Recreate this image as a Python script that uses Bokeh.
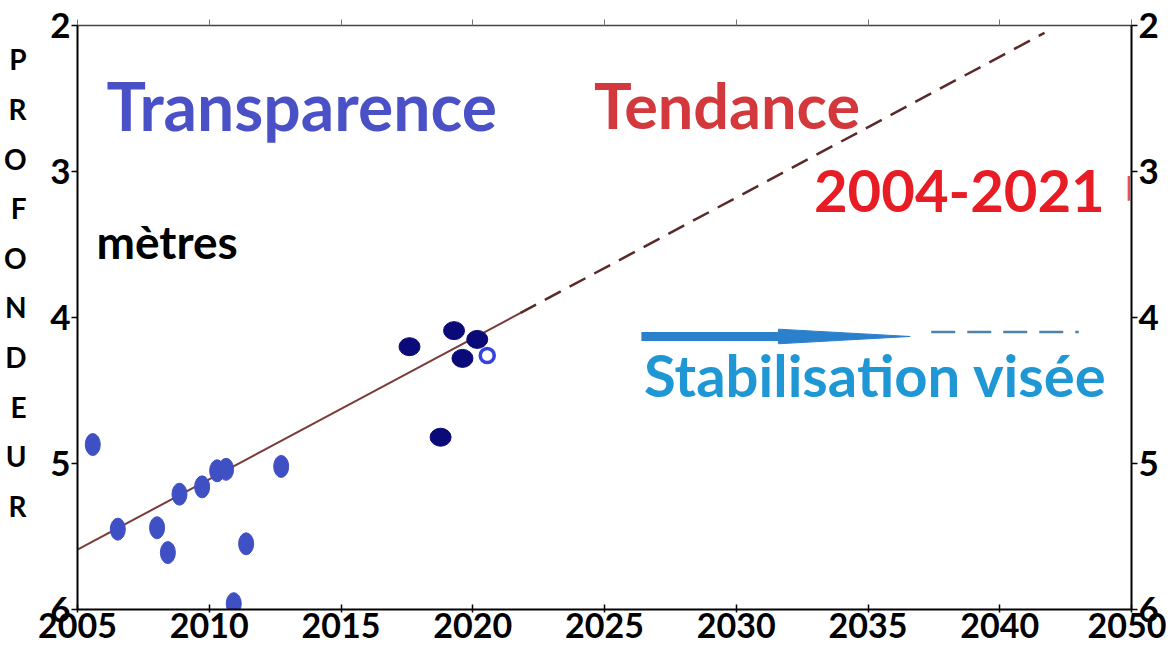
from bokeh.plotting import figure
from bokeh.models import Range1d, LinearAxis, FixedTicker, Label
from bokeh.embed import file_html
from bokeh.resources import INLINE

# ---- data ----
blue_years = [2005.58, 2006.53, 2008.02, 2008.43, 2008.87, 2009.73, 2010.30, 2010.64, 2011.40, 2010.93, 2012.73]
blue_depth = [4.87, 5.45, 5.44, 5.61, 5.21, 5.16, 5.05, 5.04, 5.55, 5.96, 5.02]

navy_years = [2017.60, 2019.29, 2020.17, 2019.61, 2018.78]
navy_depth = [4.20, 4.09, 4.15, 4.28, 4.82]

open_years = [2020.55]
open_depth = [4.26]

trend_solid_years = [2005.0, 2021.8]
trend_solid_depth = [5.59, 3.97]
trend_dash_years = [2021.8, 2041.7]
trend_dash_depth = [3.97, 2.05]

arrow_years = [2026.4, 2031.6]
arrow_head_years = [2031.6, 2036.6]
arrow_depth = 4.13
target_years = [2037.4, 2043.0]
target_depth = [4.10, 4.10]

x_ticks = [2005, 2010, 2015, 2020, 2025, 2030, 2035, 2040, 2045]
x_tick_labels = ["2005", "2010", "2015", "2020", "2025", "2030", "2035", "2040", "2050"]
y_ticks = [2, 3, 4, 5, 6]
side_letters = list("PROFONDEUR")

FONT = "Lato"

p = figure(frame_width=1054, frame_height=584, output_backend="svg", toolbar_location=None,
           x_range=Range1d(2005, 2045), y_range=Range1d(6, 2),
           min_border_left=76, min_border_right=35, min_border_top=25, min_border_bottom=40,
           x_axis_location="below", y_axis_location="left")
p.outline_line_color = None
p.grid.visible = False
p.background_fill_color = "white"
p.border_fill_color = "white"

def style_axis(ax, tick_in=0, tick_out=6, size="33px"):
    ax.axis_line_color = "black"
    ax.axis_line_width = 2
    ax.major_tick_line_color = "black"
    ax.major_tick_line_width = 1.5
    ax.major_tick_in = tick_in
    ax.major_tick_out = tick_out
    ax.minor_tick_line_color = None
    ax.major_label_text_font = FONT
    ax.major_label_text_font_style = "bold"
    ax.major_label_text_color = "black"
    ax.major_label_text_font_size = size
    ax.major_label_standoff = 0

xb = p.xaxis[0]
xb.ticker = FixedTicker(ticks=x_ticks)
xb.major_label_overrides = {t: l for t, l in zip(x_ticks, x_tick_labels)}
style_axis(xb, tick_in=5, tick_out=3, size="34px")

yl = p.yaxis[0]
yl.ticker = FixedTicker(ticks=y_ticks)
style_axis(yl, tick_in=0, tick_out=6, size="35px")
yl.major_label_standoff = 1

# letters of the vertical side title, drawn as labels of an extra, line-less left axis
p.extra_y_ranges = {"letters": Range1d(start=11.089, end=-0.6855)}
la = LinearAxis(y_range_name="letters", ticker=FixedTicker(ticks=list(range(len(side_letters)))))
la.major_label_overrides = {i: ch for i, ch in enumerate(side_letters)}
la.axis_line_color = None
la.major_tick_line_color = None
la.minor_tick_line_color = None
la.major_tick_out = 0
la.major_tick_in = 0
la.major_label_standoff = 21
la.major_label_text_font = FONT
la.major_label_text_font_style = "bold"
la.major_label_text_font_size = "28px"
la.major_label_text_color = "black"
p.add_layout(la, "left")

yr = LinearAxis(ticker=FixedTicker(ticks=y_ticks))
style_axis(yr, tick_in=0, tick_out=6, size="35px")
yr.major_label_standoff = 1
p.add_layout(yr, "right")

xt = LinearAxis(ticker=FixedTicker(ticks=x_ticks))
style_axis(xt, tick_in=0, tick_out=6, size="10px")
xt.major_label_overrides = {t: "" for t in x_ticks}
xt.axis_line_color = "#444444"
xt.axis_line_width = 1.5
xt.major_tick_line_color = "#777777"
xt.major_tick_line_width = 1
p.add_layout(xt, "above")

# trend line
p.line(trend_solid_years, trend_solid_depth, line_color="#7a3a3a", line_width=2)
p.line(trend_dash_years, trend_dash_depth, line_color="#5a2a2a", line_width=2.5, line_dash="18 10")

# points
p.ellipse(x=blue_years, y=blue_depth, width=15, height=22, width_units="screen", height_units="screen",
          fill_color="#3f4fc4", line_color="#3f4fc4", line_width=1)
p.ellipse(x=navy_years, y=navy_depth, width=21, height=18, width_units="screen", height_units="screen",
          fill_color="#0a0a78", line_color="#0a0a78")
p.scatter(open_years, open_depth, size=14, marker="circle", fill_color="white",
          line_color="#3344dd", line_width=3.5)

# stabilisation arrow
p.line(arrow_years, [arrow_depth, arrow_depth], line_color="#2b80cc", line_width=9)
p.patch([arrow_head_years[0], arrow_head_years[1], arrow_head_years[0]],
        [arrow_depth - 0.05, arrow_depth, arrow_depth + 0.05],
        fill_color="#2b80cc", line_color="#2b80cc")
p.line(target_years, target_depth, line_color="#4f84a8", line_width=2.5, line_dash="24 12")

# small red mark on the right axis
p.line([2044.90, 2044.90], [3.03, 3.20], line_color="#e8505a", line_width=2.5)

def add_text(x, y, txt, color, size):
    p.add_layout(Label(x=x, y=y, text=txt, text_color=color, text_font=FONT,
                       text_font_style="bold", text_font_size=size,
                       text_align="left", text_baseline="alphabetic"))

add_text(2006.10, 2.548, "Transparence", "#4a50c6", "66px")
add_text(2024.60, 2.541, "Tendance", "#d2383c", "63px")
add_text(2032.95, 3.131, "2004-2021", "#e81c24", "58px")
add_text(2005.72, 3.479, "mètres", "black", "46px")
add_text(2026.50, 4.390, "Stabilisation visée", "#1f97d4", "58px")

open("out.html", "w").write(file_html(p, INLINE))
